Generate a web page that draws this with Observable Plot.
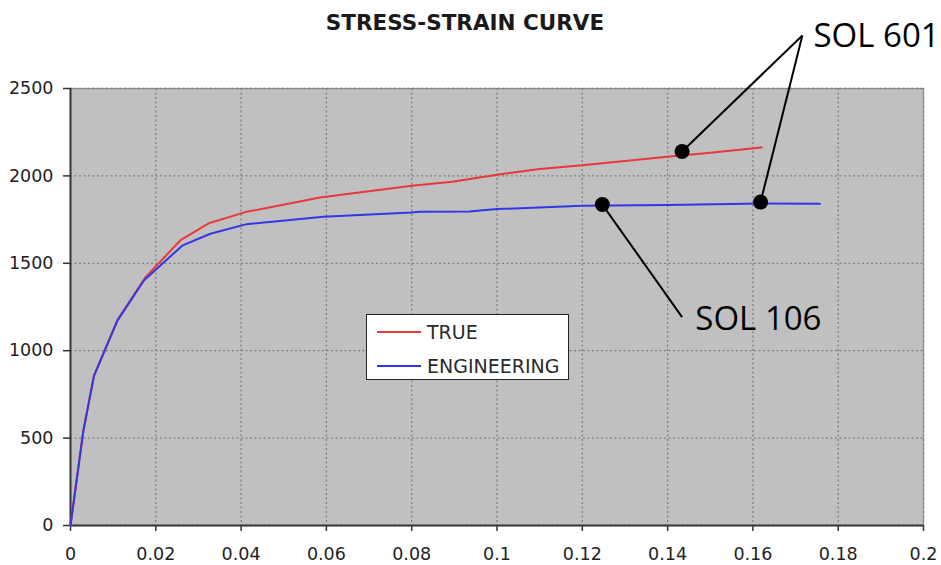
<!DOCTYPE html>
<html>
<head>
<meta charset="utf-8">
<script src="https://cdn.jsdelivr.net/npm/d3@7"></script>
<script src="https://cdn.jsdelivr.net/npm/@observablehq/plot@0.6"></script>
<style>
  html, body { margin: 0; padding: 0; background: #fff; }
  #wrap { position: relative; width: 941px; height: 565px; overflow: hidden; }
  #wrap svg { position: absolute; left: 0; top: 0; z-index: 0; }
  #title { position: absolute; left: 0; width: 930px; top: 12px; text-align: center; z-index: 2;
    font: bold 21.5px/21.5px "DejaVu Sans", sans-serif; color: #1a1a1a; }
  #legend { position: absolute; left: 366px; top: 314px; width: 201px; height: 64px; z-index: 2;
    background: #fff; border: 1.5px solid #222; }
  #legend .sw { position: absolute; left: 10px; width: 44px; height: 0; border-top: 2px solid; }
  #legend .lb { position: absolute; left: 60px; font: 19px/19px "DejaVu Sans", sans-serif; color: #2a2a2a; }
</style>
</head>
<body>
<div id="wrap">
  <div id="title"></div>
  <div id="legend"></div>
</div>
<script>
// ---- data ----
const title = "STRESS-STRAIN CURVE";
const seriesNames = ["TRUE", "ENGINEERING"];
const seriesColors = ["#e8383d", "#3535e6"];

const trueStrain = [0, 0.003, 0.0055, 0.011, 0.0176, 0.0258, 0.0324, 0.041, 0.0585, 0.08, 0.0895, 0.1, 0.11, 0.12, 0.14, 0.15, 0.162];
const trueStress = [0, 540, 856, 1175, 1421, 1632, 1729, 1793, 1876, 1943, 1966, 2006, 2040, 2061, 2109, 2133, 2162];

const engStrain = [0, 0.003, 0.0055, 0.011, 0.0172, 0.0262, 0.0328, 0.0413, 0.0593, 0.08, 0.0817, 0.0935, 0.1, 0.12, 0.14, 0.162, 0.1757];
const engStress = [0, 540, 856, 1172, 1402, 1601, 1669, 1724, 1766, 1790, 1795, 1796, 1810, 1829, 1833, 1842, 1840];

const xTicks = [0, 0.02, 0.04, 0.06, 0.08, 0.1, 0.12, 0.14, 0.16, 0.18, 0.2];
const yTicks = [0, 500, 1000, 1500, 2000, 2500];

// annotations (in strain / stress units)
const calloutLabels = ["SOL 601", "SOL 106"];
const calloutLabelStrain = [0.1742, 0.1465];
const calloutLabelStress = [2736, 1116];
const calloutAnchorStrain = [0.1716, 0.1434];
const calloutAnchorStress = [2803, 1192];
const calloutDotLabel = ["SOL 601", "SOL 601", "SOL 106"];
const calloutDotStrain = [0.1434, 0.1618, 0.1247];
const calloutDotStress = [2140, 1850, 1836];

// ---- tables ----
const lineData = [
  ...trueStrain.map((s, i) => ({series: seriesNames[0], strain: s, stress: trueStress[i]})),
  ...engStrain.map((s, i) => ({series: seriesNames[1], strain: s, stress: engStress[i]}))
];
const dotData = calloutDotLabel.map((l, i) => {
  const k = calloutLabels.indexOf(l);
  return {label: l, strain: calloutDotStrain[i], stress: calloutDotStress[i],
          ax: calloutAnchorStrain[k], ay: calloutAnchorStress[k]};
});
const labelData = calloutLabels.map((l, i) => ({label: l, strain: calloutLabelStrain[i], stress: calloutLabelStress[i]}));

const plot = Plot.plot({
  width: 941,
  height: 565,
  marginLeft: 70,
  marginRight: 18,
  marginTop: 88,
  marginBottom: 40,
  style: {fontFamily: "'DejaVu Sans', sans-serif", fontSize: "17.5px", color: "#222", background: "transparent", overflow: "visible"},
  x: {domain: [0, 0.2]},
  y: {domain: [0, 2500]},
  color: {domain: seriesNames, range: seriesColors},
  marks: [
    Plot.frame({fill: "#c0c0c0", stroke: "#8c8c8c", strokeWidth: 1.2}),
    Plot.gridX(xTicks, {stroke: "#808080", strokeOpacity: 1, strokeWidth: 1.3, strokeDasharray: "2,2.5"}),
    Plot.gridY(yTicks, {stroke: "#808080", strokeOpacity: 1, strokeWidth: 1.3, strokeDasharray: "2,2.5"}),
    Plot.axisX(xTicks, {tickSize: 6, tickPadding: 16, tickFormat: d3.format("~g"), stroke: "#333", strokeWidth: 1.5, label: null}),
    Plot.axisY(yTicks, {tickSize: 7, tickPadding: 10, tickFormat: d3.format("d"), stroke: "#333", strokeWidth: 1.5, label: null}),
    Plot.ruleX([0], {stroke: "#3a3a3a", strokeWidth: 2}),
    Plot.ruleY([0], {stroke: "#3a3a3a", strokeWidth: 2}),
    Plot.line(lineData, {x: "strain", y: "stress", z: "series", stroke: "series", strokeWidth: 2}),
    Plot.link(dotData, {x1: "strain", y1: "stress", x2: "ax", y2: "ay", stroke: "#000", strokeWidth: 2}),
    Plot.dot(dotData, {x: "strain", y: "stress", r: 7.5, fill: "#000", stroke: null}),
    Plot.text(labelData, {x: "strain", y: "stress", text: "label", textAnchor: "start", lineAnchor: "bottom",
      fontFamily: "'Open Sans', sans-serif", fontSize: 33, fill: "#000"})
  ]
});
document.getElementById("wrap").insertBefore(plot, document.getElementById("title"));

document.getElementById("title").textContent = title;

const legend = document.getElementById("legend");
seriesNames.forEach((name, i) => {
  const sw = document.createElement("div");
  sw.className = "sw";
  sw.style.top = (16 + i * 34) + "px";
  sw.style.borderColor = seriesColors[i];
  legend.appendChild(sw);
  const lb = document.createElement("div");
  lb.className = "lb";
  lb.style.top = (8 + i * 34) + "px";
  lb.textContent = name;
  legend.appendChild(lb);
});
</script>
</body>
</html>
